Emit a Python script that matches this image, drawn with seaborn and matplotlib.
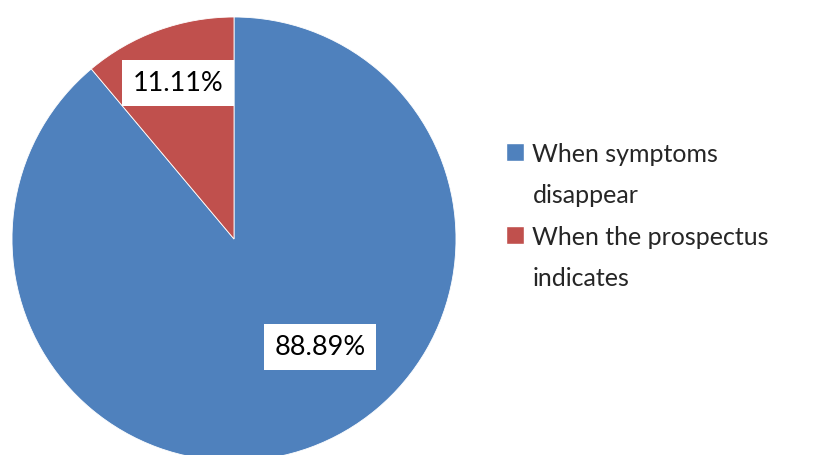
import matplotlib.pyplot as plt
from matplotlib.patches import Patch
import seaborn as sns

# data
answers = ['When symptoms\ndisappear', 'When the prospectus\nindicates']
shares = [88.89, 11.11]
colours = ['#4F81BD', '#C0504D']

sns.set_style('white')
plt.rcParams['font.family'] = ['Lato', 'DejaVu Sans']

fig = plt.figure(figsize=(8.16, 4.56), dpi=100)
# pie centre ~ (234, 240) px, radius ~222 px
ax = fig.add_axes([12 / 816, -6 / 456, 444 / 816, 444 / 456])

wedges, texts, pcts = ax.pie(shares, colors=colours, startangle=90, counterclock=False,
                             radius=1, autopct='%.2f%%', pctdistance=0.7,
                             wedgeprops=dict(edgecolor='white', linewidth=0.6),
                             textprops=dict(fontsize=19.5, color='black'))
ax.set_xlim(-1, 1)
ax.set_ylim(-1, 1)
ax.set_aspect('equal')

# label spots as Excel placed them (best fit)
label_pos = [(0.387, -0.486), (-0.252, 0.703)]
for t, pos in zip(pcts, label_pos):
    t.set_position(pos)
    t.set_bbox(dict(facecolor='white', edgecolor='none', pad=7.5))

# legend: square sits beside the first line of each wrapped label
handles, labels = [], []
for c, a in zip(colours, answers):
    lines = a.split('\n')
    handles.append(Patch(facecolor=c))
    labels.append(lines[0])
    for extra in lines[1:]:
        handles.append(Patch(facecolor='none', edgecolor='none'))
        labels.append(extra)

leg = fig.legend(handles, labels, loc='center left', bbox_to_anchor=(483 / 816, 0.525),
                 frameon=False, fontsize=18, handlelength=0.72, handleheight=0.72,
                 handletextpad=0.36, labelspacing=0.74)

fig.savefig('out.png', dpi=100)
